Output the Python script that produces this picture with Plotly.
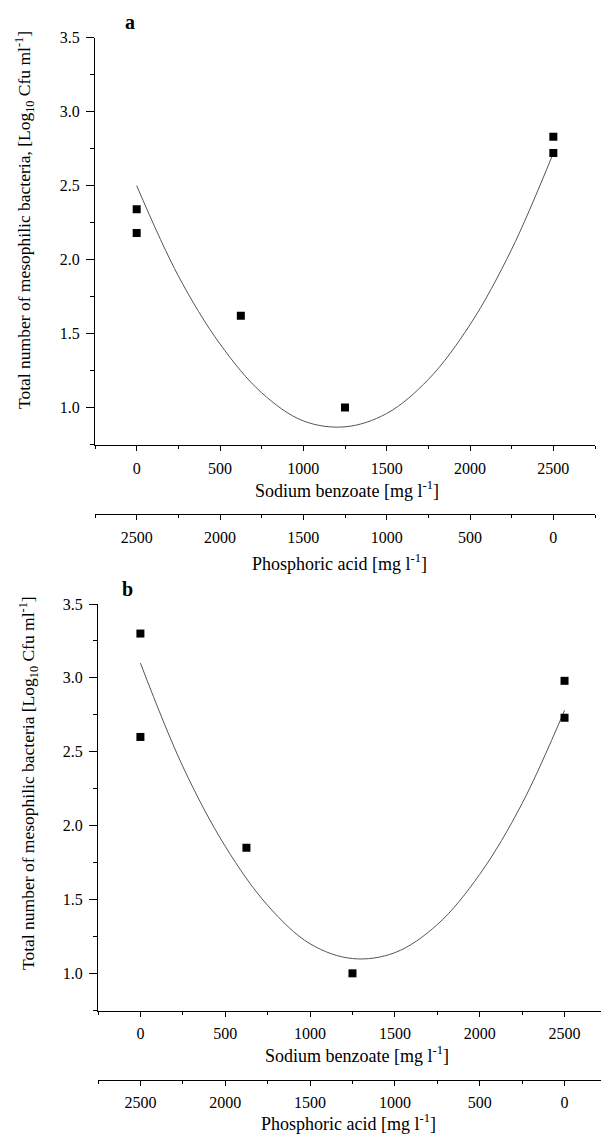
import plotly.graph_objects as go

# ---- data ----
sodium_a = [0, 0, 625, 1250, 2500, 2500]
cfu_a = [2.34, 2.18, 1.62, 1.00, 2.83, 2.72]

sodium_b = [0, 0, 625, 1250, 2500, 2500]
cfu_b = [3.30, 2.60, 1.85, 1.00, 2.98, 2.73]

fit_x = [0, 250, 500, 750, 1000, 1250, 1500, 1750, 2000, 2250, 2500]
fit_a = [2.50, 1.89, 1.43, 1.10, 0.91, 0.87, 0.96, 1.19, 1.56, 2.07, 2.72]
fit_b = [3.10, 2.40, 1.86, 1.46, 1.20, 1.10, 1.14, 1.33, 1.67, 2.15, 2.78]

y_ticks = [1.0, 1.5, 2.0, 2.5, 3.0, 3.5]
sodium_ticks = [0, 500, 1000, 1500, 2000, 2500]
phosphoric_ticks = [2500, 2000, 1500, 1000, 500, 0]

FONT = "Liberation Serif"
W, H = 601, 1136

fig = go.Figure()

for xs, ys, fx, fy, xa, ya in [
    (sodium_a, cfu_a, fit_x, fit_a, "x", "y"),
    (sodium_b, cfu_b, fit_x, fit_b, "x2", "y2"),
]:
    fig.add_trace(go.Scatter(x=fx, y=fy, mode="lines", line=dict(color="#555", width=1, shape="spline"),
                             xaxis=xa, yaxis=ya, showlegend=False, hoverinfo="skip"))
    fig.add_trace(go.Scatter(x=xs, y=ys, mode="markers",
                             marker=dict(symbol="square", size=8, color="black"),
                             xaxis=xa, yaxis=ya, showlegend=False))

# dummy traces so the phosphoric axes get drawn
fig.add_trace(go.Scatter(x=phosphoric_ticks, y=[None] * 6, xaxis="x3", yaxis="y", showlegend=False, hoverinfo="skip"))
fig.add_trace(go.Scatter(x=phosphoric_ticks, y=[None] * 6, xaxis="x4", yaxis="y2", showlegend=False, hoverinfo="skip"))

tickfont = dict(family=FONT, size=16, color="black")

def xaxis_common(rng, ticks):
    return dict(range=rng, tickvals=ticks, ticktext=[str(t) for t in ticks], automargin=False,
                showline=True, linecolor="black", linewidth=1.3,
                ticks="outside", ticklen=5, tickwidth=1, tickcolor="black",
                minor=dict(ticks="outside", ticklen=3, tick0=0, dtick=250, tickcolor="black"),
                showgrid=False, zeroline=False, tickfont=tickfont, ticklabelstandoff=3)

def yaxis_common(dom):
    return dict(domain=dom, range=[0.745, 3.5], tickvals=y_ticks, tickformat=".1f", automargin=False,
                showline=True, linecolor="black", linewidth=1.3,
                ticks="outside", ticklen=8, tickwidth=1, tickcolor="black",
                minor=dict(ticks="outside", ticklen=4, tick0=0, dtick=0.25, tickcolor="black"),
                showgrid=False, zeroline=False, tickfont=tickfont, ticklabelstandoff=3)

xa_dom = [95 / W, 595 / W]
xb_dom = [98 / W, 1.0]
ya_dom = [1 - 445.3 / H, 1 - 37.7 / H]
yb_dom = [1 - 1011 / H, 1 - 604 / H]

fig.update_layout(
    width=W, height=H,
    margin=dict(l=0, r=0, t=0, b=0, autoexpand=False),
    paper_bgcolor="white", plot_bgcolor="white",
    xaxis=dict(domain=xa_dom, anchor="y", **xaxis_common([-250, 2750], sodium_ticks)),
    yaxis=dict(anchor="x", **yaxis_common(ya_dom)),
    xaxis2=dict(domain=xb_dom, anchor="y2", **xaxis_common([-250, 2715], sodium_ticks)),
    yaxis2=dict(anchor="x2", **yaxis_common(yb_dom)),
    xaxis3=dict(overlaying="x", anchor="free", position=1 - 514.3 / H, side="bottom",
                **xaxis_common([2750, -250], phosphoric_ticks)),
    xaxis4=dict(overlaying="x2", anchor="free", position=1 - 1080 / H, side="bottom",
                **xaxis_common([2750, -215], phosphoric_ticks)),
)

def ann(text, x, y, size=18, angle=0, yanchor="middle"):
    fig.add_annotation(text=text, x=x / W, y=1 - y / H, xref="paper", yref="paper",
                       xanchor="center", yanchor=yanchor, showarrow=False, textangle=angle,
                       font=dict(family=FONT, size=size, color="black"))

ann("<b>a</b>", 130, 22, size=20)
ann("<b>b</b>", 127, 589, size=20)
ann("Sodium benzoate [mg l<sup>-1</sup>]", 347, 489)
ann("Phosphoric acid [mg l<sup>-1</sup>]", 339, 562)
ann("Sodium benzoate [mg l<sup>-1</sup>]", 357, 1054)
ann("Phosphoric acid [mg l<sup>-1</sup>]", 348, 1136, yanchor="bottom")
ann("Total number of mesophilic bacteria, [Log<sub>10</sub> Cfu ml<sup>-1</sup>]", 25, 220, size=17.5, angle=-90)
ann("Total number of mesophilic bacteria [Log<sub>10</sub> Cfu ml<sup>-1</sup>]", 28, 783, size=17.5, angle=-90)

fig.write_html("out.html", config={"displayModeBar": False},
               post_script="document.body.style.margin='0';document.body.style.overflow='hidden';")
